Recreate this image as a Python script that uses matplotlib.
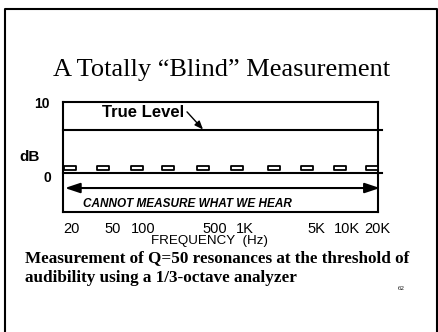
import matplotlib
matplotlib.use("Agg")
import matplotlib.pyplot as plt
from matplotlib.path import Path
from matplotlib.lines import Line2D
import numpy as np

plt.rcParams['font.family'] = ['Liberation Sans', 'DejaVu Sans']

# %%
# tick frequencies and their labels
tick_freqs = [20, 50, 100, 500, 1000, 5000, 10000, 20000]
tick_labels = ["20", "50", "100", "500", "1K", "5K", "10K", "20K"]

# Q=50 resonances as read by the 1/3-octave analyzer (dB)
res_freqs = [19.3, 40.6, 87.5, 176, 388, 836, 1930, 4060, 8550, 17600]
res_levels = [0.7, 0.7, 0.7, 0.7, 0.7, 0.7, 0.7, 0.7, 0.7, 0.7]

true_level = 6.0
zero_level = 0.0

W, H = 439, 332
def fx(x):
    return x / W
def fy(y):
    return 1 - y / H

# %%
fig = plt.figure(figsize=(W / 100, H / 100), dpi=100)
fig.patch.set_facecolor("white")

# slide border
fig.add_artist(Line2D([fx(5), fx(5), fx(437.5), fx(437.5)],
                      [0, fy(9), fy(9), 0], color="black", lw=1.5,
                      transform=fig.transFigure))

fig.text(0.505, fy(70), "A Totally \u201cBlind\u201d Measurement",
         family="Liberation Serif", fontsize=19, ha="center", va="center")

ax = fig.add_axes([fx(63), fy(212), fx(378) - fx(63), fy(102) - fy(212)])
ax.set_xscale("log")
ax.set_xlim(16.4, 20200)
ax.set_ylim(-5.6, 10)
for s in ax.spines.values():
    s.set_linewidth(1.5)

ax.set_xticks(tick_freqs)
ax.set_xticklabels(tick_labels, fontsize=10.5)
ax.xaxis.set_minor_locator(matplotlib.ticker.NullLocator())
ax.tick_params(axis="x", length=0, pad=7)
ax.set_yticks([])

ax.axhline(true_level, xmin=0, xmax=1.013, color="black", lw=1.5, clip_on=False)
ax.axhline(zero_level, xmin=0, xmax=1.013, color="black", lw=1.5, clip_on=False)

# hollow bar marker for the analyzer readings
bar = Path([(-1, -0.28), (1, -0.28), (1, 0.28), (-1, 0.28), (-1, -0.28)],
           [Path.MOVETO, Path.LINETO, Path.LINETO, Path.LINETO, Path.CLOSEPOLY])
ax.plot(res_freqs, res_levels, ls="none", marker=bar, markersize=8.8,
        markerfacecolor="white", markeredgecolor="black", markeredgewidth=1.3,
        clip_on=False, zorder=3)

ax.annotate("", xy=(1.006, -2.2), xytext=(0.006, -2.2),
            xycoords=("axes fraction", "data"), textcoords=("axes fraction", "data"),
            arrowprops=dict(arrowstyle="<|-|>,head_length=0.9,head_width=0.3",
                            color="black", lw=1.5, shrinkA=0, shrinkB=0))
ax.text(25.9, -4.5, "CANNOT MEASURE WHAT WE HEAR", fontsize=8.5,
        fontweight="bold", style="italic", ha="left", va="center")

ax.text(39.7, 8.45, "True Level", fontsize=12, fontweight="bold",
        ha="left", va="center")
ax.annotate("", xy=(388, true_level + 0.1), xytext=(270, 8.6),
            arrowprops=dict(arrowstyle="-|>,head_length=0.5,head_width=0.2",
                            color="black", lw=1.0, shrinkA=0, shrinkB=0))

fig.text(fx(50), fy(104), "10", fontsize=10, fontweight="bold",
         ha="right", va="center")
fig.text(fx(51), fy(178), "0", fontsize=10, fontweight="bold",
         ha="right", va="center")
fig.text(fx(30), fy(157), "dB", fontsize=11, fontweight="bold",
         ha="center", va="center")
fig.text(fx(210), fy(241), "FREQUENCY  (Hz)", fontsize=9.6, ha="center", va="center")

fig.text(fx(25), fy(258), "Measurement of Q=50 resonances at the threshold of",
         family="Liberation Serif", fontweight="bold", fontsize=12.3,
         ha="left", va="center")
fig.text(fx(25), fy(278), "audibility using a 1/3-octave analyzer",
         family="Liberation Serif", fontweight="bold", fontsize=12.3,
         ha="left", va="center")
fig.text(fx(401), fy(288), "62", family="Liberation Serif", fontsize=5,
         ha="center", va="center")

fig.savefig("out.png", dpi=100)
